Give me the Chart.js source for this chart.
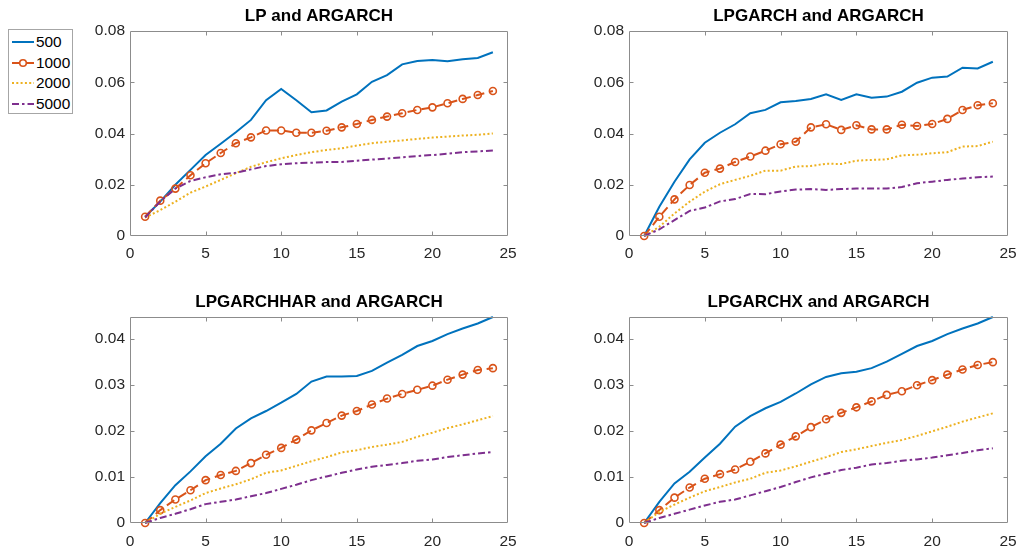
<!DOCTYPE html>
<html>
<head>
<meta charset="utf-8">
<script src="https://cdn.jsdelivr.net/npm/chart.js@4/dist/chart.umd.min.js"></script>
<style>
  html, body { margin: 0; padding: 0; background: #fff; }
  #fig { position: relative; width: 1018px; height: 551px; background: #fff; overflow: hidden;
         font-family: "Liberation Sans", Arial, sans-serif; }
  .panel { position: absolute; }
  .panel canvas { display: block; }
  #legend { position: absolute; left: 8px; top: 29px; width: 65px; height: 85px;
            border: 1px solid #a6a6a6; background: #fff; box-sizing: border-box; }
  #legend .row { position: absolute; left: 2px; height: 20px; display: flex; align-items: center; }
  #legend svg { width: 24px; height: 20px; }
  #legend span { font-size: 15.4px; color: #000; margin-left: 1px; line-height: 20px; }
</style>
</head>
<body>
<div id="fig">
  <div id="legend"></div>
  <div class="panel" style="left:80px;top:0px;"><canvas id="c1" width="440" height="266"></canvas></div>
  <div class="panel" style="left:579px;top:0px;"><canvas id="c2" width="441" height="266"></canvas></div>
  <div class="panel" style="left:80px;top:286px;"><canvas id="c3" width="440" height="265"></canvas></div>
  <div class="panel" style="left:579px;top:286px;"><canvas id="c4" width="441" height="265"></canvas></div>
</div>
<script>
// Forecast horizons and sample sizes
const horizons = [1,2,3,4,5,6,7,8,9,10,11,12,13,14,15,16,17,18,19,20,21,22,23,24];
const sampleSizes = ['500', '1000', '2000', '5000'];

// Tick labels
const xTicks = [0, 5, 10, 15, 20, 25];
const yTicksTop = [0, 0.02, 0.04, 0.06, 0.08];
const yTicksBottom = [0, 0.01, 0.02, 0.03, 0.04];

// LP and ARGARCH
const lp500  = [0.0075,0.0134,0.0200,0.0258,0.0316,0.0360,0.0405,0.0453,0.0530,0.0574,0.0530,0.0483,0.0490,0.0524,0.0553,0.0602,0.0628,0.0670,0.0683,0.0687,0.0682,0.0690,0.0695,0.0717];
const lp1000 = [0.0075,0.0138,0.0185,0.0237,0.0284,0.0324,0.0362,0.0385,0.0412,0.0412,0.0403,0.0403,0.0411,0.0424,0.0437,0.0453,0.0466,0.0479,0.0492,0.0502,0.0518,0.0535,0.0550,0.0566];
const lp2000 = [0.0072,0.0101,0.0134,0.0169,0.0193,0.0219,0.0245,0.0270,0.0288,0.0303,0.0316,0.0327,0.0336,0.0342,0.0353,0.0362,0.0368,0.0373,0.0379,0.0384,0.0388,0.0392,0.0395,0.0400];
const lp5000 = [0.0072,0.0135,0.0185,0.0215,0.0229,0.0241,0.0247,0.0260,0.0273,0.0280,0.0284,0.0286,0.0289,0.0289,0.0294,0.0298,0.0302,0.0307,0.0312,0.0316,0.0321,0.0327,0.0330,0.0334];

// LPGARCH and ARGARCH
const lpg500  = [0,0.0114,0.0212,0.0299,0.0364,0.0403,0.0436,0.0479,0.0492,0.0522,0.0527,0.0535,0.0553,0.0531,0.0553,0.0540,0.0544,0.0563,0.0598,0.0618,0.0622,0.0657,0.0654,0.0680];
const lpg1000 = [0,0.0075,0.0143,0.0199,0.0247,0.0263,0.0289,0.0310,0.0333,0.0358,0.0368,0.0424,0.0436,0.0414,0.0432,0.0416,0.0416,0.0434,0.0429,0.0437,0.0457,0.0492,0.0510,0.0518];
const lpg2000 = [0,0.0036,0.0088,0.0134,0.0173,0.0202,0.0219,0.0235,0.0255,0.0255,0.0271,0.0273,0.0282,0.0281,0.0294,0.0297,0.0299,0.0315,0.0317,0.0323,0.0327,0.0349,0.0351,0.0368];
const lpg5000 = [0,0.0026,0.0062,0.0098,0.0111,0.0135,0.0144,0.0164,0.0163,0.0174,0.0181,0.0183,0.0180,0.0183,0.0185,0.0185,0.0185,0.0191,0.0206,0.0212,0.0219,0.0224,0.0229,0.0232];

// LPGARCHHAR and ARGARCH
const har500  = [0,0.0043,0.0082,0.0112,0.0145,0.0172,0.0205,0.0227,0.0243,0.0261,0.0280,0.0307,0.0318,0.0318,0.0319,0.0330,0.0348,0.0365,0.0384,0.0395,0.0410,0.0422,0.0433,0.0447];
const har1000 = [0,0.0028,0.0051,0.0071,0.0093,0.0104,0.0113,0.0130,0.0148,0.0163,0.0181,0.0201,0.0217,0.0233,0.0243,0.0257,0.0270,0.0280,0.0289,0.0298,0.0311,0.0322,0.0332,0.0336];
const har2000 = [0,0.0020,0.0035,0.0049,0.0065,0.0075,0.0084,0.0095,0.0109,0.0114,0.0124,0.0134,0.0143,0.0153,0.0158,0.0165,0.0170,0.0176,0.0187,0.0196,0.0206,0.0214,0.0223,0.0232];
const har5000 = [0,0.0011,0.0020,0.0030,0.0041,0.0046,0.0051,0.0058,0.0065,0.0074,0.0083,0.0093,0.0101,0.0109,0.0116,0.0122,0.0126,0.0130,0.0135,0.0138,0.0143,0.0147,0.0151,0.0154];

// LPGARCHX and ARGARCH
const gx500  = [0,0.0046,0.0086,0.0111,0.0142,0.0172,0.0209,0.0232,0.0249,0.0263,0.0281,0.0301,0.0317,0.0325,0.0328,0.0336,0.0350,0.0367,0.0384,0.0395,0.0410,0.0422,0.0433,0.0447];
const gx1000 = [0,0.0028,0.0055,0.0077,0.0096,0.0106,0.0116,0.0133,0.0151,0.0170,0.0188,0.0208,0.0225,0.0239,0.0251,0.0264,0.0278,0.0286,0.0299,0.0310,0.0322,0.0333,0.0343,0.0349];
const gx2000 = [0,0.0024,0.0040,0.0055,0.0069,0.0078,0.0088,0.0096,0.0109,0.0114,0.0123,0.0133,0.0143,0.0154,0.0160,0.0167,0.0174,0.0180,0.0189,0.0199,0.0209,0.0220,0.0229,0.0238];
const gx5000 = [0,0.0011,0.0020,0.0029,0.0038,0.0046,0.0051,0.0060,0.0069,0.0078,0.0089,0.0099,0.0107,0.0115,0.0120,0.0127,0.0130,0.0135,0.0138,0.0142,0.0147,0.0152,0.0158,0.0162];

// Line styles per sample size
const styles = [
  { color: '#0072BD', dash: [],             marker: false },
  { color: '#D95319', dash: [9, 5],         marker: true  },
  { color: '#EDB120', dash: [2, 2.3],       marker: false },
  { color: '#7E2F8E', dash: [7, 3, 2.5, 3], marker: false }
];

const FONT = '"Liberation Sans", Arial, sans-serif';
const AXIS_COLOR = '#8c8c8c';
const TICK_TEXT = '#262626';

// Axes box with inward tick marks on all four sides
const axesBox = {
  id: 'axesBox',
  afterDatasetsDraw(chart) {
    const { ctx, chartArea: a, scales: { x, y } } = chart;
    const L = Math.round(a.left) + 0.5, R = Math.round(a.right) - 0.5;
    const T = Math.round(a.top) + 0.5, B = Math.round(a.bottom) - 0.5;
    const len = 4;
    ctx.save();
    ctx.strokeStyle = AXIS_COLOR;
    ctx.lineWidth = 1;
    ctx.beginPath();
    ctx.rect(L, T, R - L, B - T);
    x.ticks.forEach(t => {
      const px = Math.round(x.getPixelForValue(t.value)) + 0.5;
      if (px <= L + 1 || px >= R - 1) return;
      ctx.moveTo(px, B); ctx.lineTo(px, B - len);
      ctx.moveTo(px, T); ctx.lineTo(px, T + len);
    });
    y.ticks.forEach(t => {
      const py = Math.round(y.getPixelForValue(t.value)) + 0.5;
      if (py <= T + 1 || py >= B - 1) return;
      ctx.moveTo(L, py); ctx.lineTo(L + len, py);
      ctx.moveTo(R, py); ctx.lineTo(R - len, py);
    });
    ctx.stroke();
    ctx.restore();
  }
};

function fmtY(v) { return v === 0 ? '0' : v.toFixed(2); }

// Fixed axis box sizes; label overflow is already covered by the layout margins
function fixSize(prop, size) {
  return s => {
    s[prop] = size;
    s.paddingLeft = 0; s.paddingRight = 0; s.paddingTop = 0; s.paddingBottom = 0;
  };
}

function makePanel(id, title, series, yTicks, yMax, xAxisHeight, xPad) {
  const datasets = series.map((vals, i) => {
    const s = styles[i];
    return {
      label: sampleSizes[i],
      data: horizons.map((h, k) => ({ x: h, y: vals[k] })),
      borderColor: s.color,
      backgroundColor: s.color,
      borderWidth: 2,
      borderDash: s.dash,
      pointRadius: s.marker ? 3.5 : 0,
      pointBorderWidth: 1.6,
      pointBorderColor: s.color,
      pointBackgroundColor: 'rgba(0,0,0,0)',
      pointStyle: 'circle',
      tension: 0,
      clip: false,
      order: 4 - i
    };
  });
  return new Chart(document.getElementById(id), {
    type: 'line',
    data: { datasets },
    options: {
      responsive: false,
      animation: false,
      devicePixelRatio: 1,
      layout: { padding: { left: 0, right: 12, top: 0, bottom: 0 } },
      plugins: {
        legend: { display: false },
        tooltip: { enabled: false },
        title: {
          display: true, text: title, color: '#000', fullSize: false,
          font: { family: FONT, size: 17, weight: 'bold', lineHeight: 1.2 },
          padding: { top: 6.5, bottom: 4.1 }
        }
      },
      scales: {
        x: {
          type: 'linear', min: 0, max: 25,
          afterBuildTicks: s => { s.ticks = xTicks.map(v => ({ value: v })); },
          afterFit: fixSize('height', xAxisHeight),
          grid: { display: false, drawTicks: false },
          border: { display: false },
          ticks: { color: TICK_TEXT, font: { family: FONT, size: 15.5 }, padding: xPad, maxRotation: 0,
                   callback: v => String(v) }
        },
        y: {
          type: 'linear', min: 0, max: yMax,
          afterBuildTicks: s => { s.ticks = yTicks.map(v => ({ value: v })); },
          afterFit: fixSize('width', 50),
          grid: { display: false, drawTicks: false },
          border: { display: false },
          ticks: { color: TICK_TEXT, font: { family: FONT, size: 15.5 }, padding: 5,
                   callback: v => fmtY(v) }
        }
      }
    },
    plugins: [axesBox]
  });
}

makePanel('c1', 'LP and ARGARCH', [lp500, lp1000, lp2000, lp5000], yTicksTop, 0.08, 30, 8);
makePanel('c2', 'LPGARCH and ARGARCH', [lpg500, lpg1000, lpg2000, lpg5000], yTicksTop, 0.08, 30, 8);
makePanel('c3', 'LPGARCHHAR and ARGARCH', [har500, har1000, har2000, har5000], yTicksBottom, 0.0447, 28, 9);
makePanel('c4', 'LPGARCHX and ARGARCH', [gx500, gx1000, gx2000, gx5000], yTicksBottom, 0.0447, 28, 9);

// Shared legend, built from the same series styles
const legend = document.getElementById('legend');
sampleSizes.forEach((name, i) => {
  const s = styles[i];
  const row = document.createElement('div');
  row.className = 'row';
  row.style.top = (2 + i * 20.7) + 'px';
  const dash = s.dash.length ? `stroke-dasharray="${s.dash.join(' ')}"` : '';
  const marker = s.marker
    ? `<circle cx="12" cy="10" r="3.3" fill="#fff" stroke="${s.color}" stroke-width="1.6"/>` : '';
  row.innerHTML =
    `<svg viewBox="0 0 24 20"><line x1="1" y1="10" x2="23" y2="10" stroke="${s.color}" stroke-width="2" ${dash}/>${marker}</svg>` +
    `<span>${name}</span>`;
  legend.appendChild(row);
});
</script>
</body>
</html>
